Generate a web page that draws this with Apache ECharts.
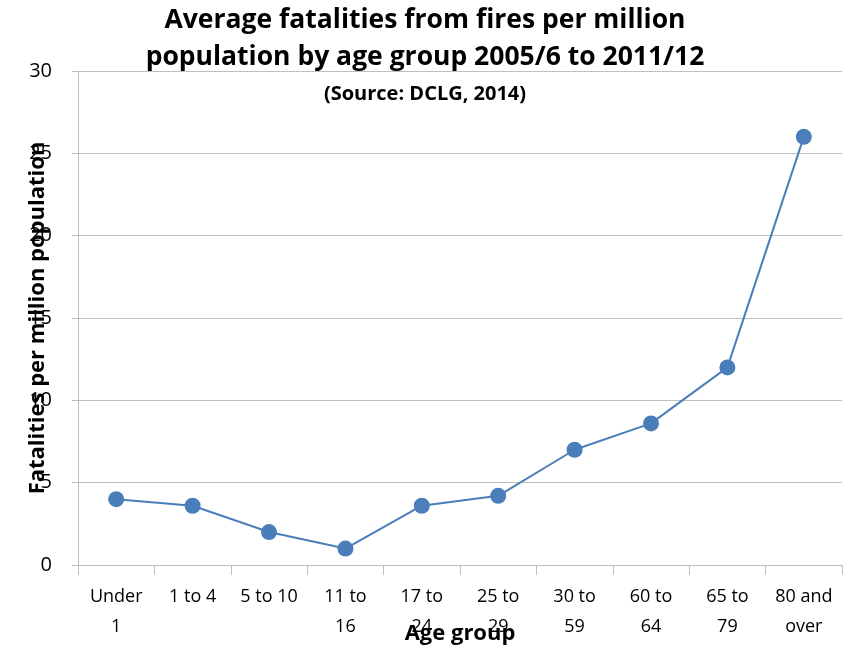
<!DOCTYPE html>
<html>
<head>
<meta charset="utf-8">
<script src="https://cdn.jsdelivr.net/npm/echarts@6/dist/echarts.min.js"></script>
<style>
html,body{margin:0;padding:0;background:#fff;}
#chart{width:850px;height:649px;}
</style>
</head>
<body>
<div id="chart"></div>
<script>
var categories = ["Under 1", "1 to 4", "5 to 10", "11 to 16", "17 to 24", "25 to 29", "30 to 59", "60 to 64", "65 to 79", "80 and over"];
var tickLabels = ["Under\n1", "1 to 4", "5 to 10", "11 to\n16", "17 to\n24", "25 to\n29", "30 to\n59", "60 to\n64", "65 to\n79", "80 and\nover"];
var fatalities = [4.0, 3.6, 2.0, 1.0, 3.6, 4.2, 7.0, 8.6, 12.0, 26.0];
var yTicks = [0, 5, 10, 15, 20, 25, 30];

var FONT = "'Open Sans', Lato, sans-serif";
var chart = echarts.init(document.getElementById('chart'));
chart.setOption({
  animation: false,
  backgroundColor: '#ffffff',
  title: [{
    text: 'Average fatalities from fires per million\npopulation by age group 2005/6 to 2011/12',
    left: 'center', top: -3,
    textStyle: {fontFamily: FONT, fontWeight: 'bold', fontSize: 26.5, lineHeight: 37, color: '#000'}
  }, {
    text: '(Source: DCLG, 2014)',
    left: 'center', top: 79,
    textStyle: {fontFamily: FONT, fontWeight: 'bold', fontSize: 20, color: '#000'}
  }],
  grid: {left: 78, right: 8, top: 71, bottom: 84, containLabel: false, outerBoundsMode: 'none'},
  xAxis: {
    type: 'category',
    data: categories,
    boundaryGap: true,
    name: 'Age group',
    nameLocation: 'middle',
    nameGap: 58,
    nameMoveOverlap: false,
    nameTextStyle: {fontFamily: FONT, fontWeight: 'bold', fontSize: 22, color: '#000'},
    axisLine: {lineStyle: {color: '#bfbfbf', width: 1}},
    axisTick: {show: true, length: 10, lineStyle: {color: '#bfbfbf'}},
    axisLabel: {
      interval: 0, margin: 17, fontFamily: FONT, fontSize: 18, lineHeight: 30, color: '#000',
      formatter: function (v, i) { return tickLabels[i]; }
    },
    splitLine: {show: false}
  },
  yAxis: {
    type: 'value',
    min: yTicks[0], max: yTicks[yTicks.length - 1], interval: 5,
    name: 'Fatalities per million population',
    nameLocation: 'middle',
    nameGap: 29,
    nameRotate: 90,
    nameMoveOverlap: false,
    nameTextStyle: {fontFamily: FONT, fontWeight: 'bold', fontSize: 22, color: '#000'},
    axisLine: {show: true, lineStyle: {color: '#bfbfbf', width: 1}},
    axisTick: {show: true, length: 6, lineStyle: {color: '#bfbfbf'}},
    axisLabel: {margin: 26, fontFamily: FONT, fontSize: 20, color: '#000'},
    splitLine: {show: true, lineStyle: {color: '#bfbfbf', width: 1}}
  },
  series: [{
    type: 'line',
    data: fatalities,
    symbol: 'circle',
    symbolSize: 16,
    lineStyle: {color: '#4a7ebb', width: 2},
    itemStyle: {color: '#4a7ebb'}
  }]
});
</script>
</body>
</html>
